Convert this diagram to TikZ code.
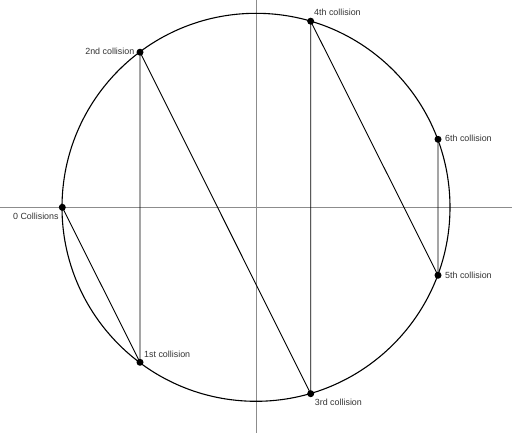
\documentclass[tikz,border=0pt]{standalone}
\usepackage{fontspec}
\setmainfont{Liberation Sans}
\begin{document}
\begin{tikzpicture}[x=1pt,y=-1pt,
  dotpt/.style={circle,fill=black,inner sep=0pt,minimum size=7pt},
  lbl/.style={inner sep=0pt,font=\fontsize{8.9}{10}\selectfont,text=black!80},
  axis/.style={draw=black!45,line width=0.8pt},
  chord/.style={draw=black,line width=0.9pt}]
\useasboundingbox (0,0) rectangle (512,433);
\coordinate (xl) at (0,207.3);
\coordinate (xr) at (512,207.3);
\coordinate (yt) at (256,0);
\coordinate (yb) at (256,433);
\draw[axis] (xl) -- (xr);
\draw[axis] (yt) -- (yb);
\coordinate (O) at (256,207.3);
\draw[line width=1.1pt] (O) circle (194);
\node[dotpt] (p0) at (62.3,207.3) {};
\node[dotpt] (p1) at (140,362.3) {};
\node[dotpt] (p2) at (140,52.2) {};
\node[dotpt] (p3) at (310.7,393.7) {};
\node[dotpt] (p4) at (310.7,21.2) {};
\node[dotpt] (p5) at (438,275.3) {};
\node[dotpt] (p6) at (438,139.3) {};
\draw[chord] (p0.center) -- (p1.center) -- (p2.center) -- (p3.center) -- (p4.center) -- (p5.center) -- (p6.center);
\node[lbl,anchor=base east] (l0) at (58.8,219.4) {0 Collisions};
\node[lbl,anchor=base west] (l1) at (144,357.3) {1st collision};
\node[lbl,anchor=base east] (l2) at (134.5,54.4) {2nd collision};
\node[lbl,anchor=base west] (l3) at (314.7,405.4) {3rd collision};
\node[lbl,anchor=base west] (l4) at (314,15.3) {4th collision};
\node[lbl,anchor=base west] (l5) at (445,278.6) {5th collision};
\node[lbl,anchor=base west] (l6) at (445,141.9) {6th collision};
\end{tikzpicture}
\end{document}
